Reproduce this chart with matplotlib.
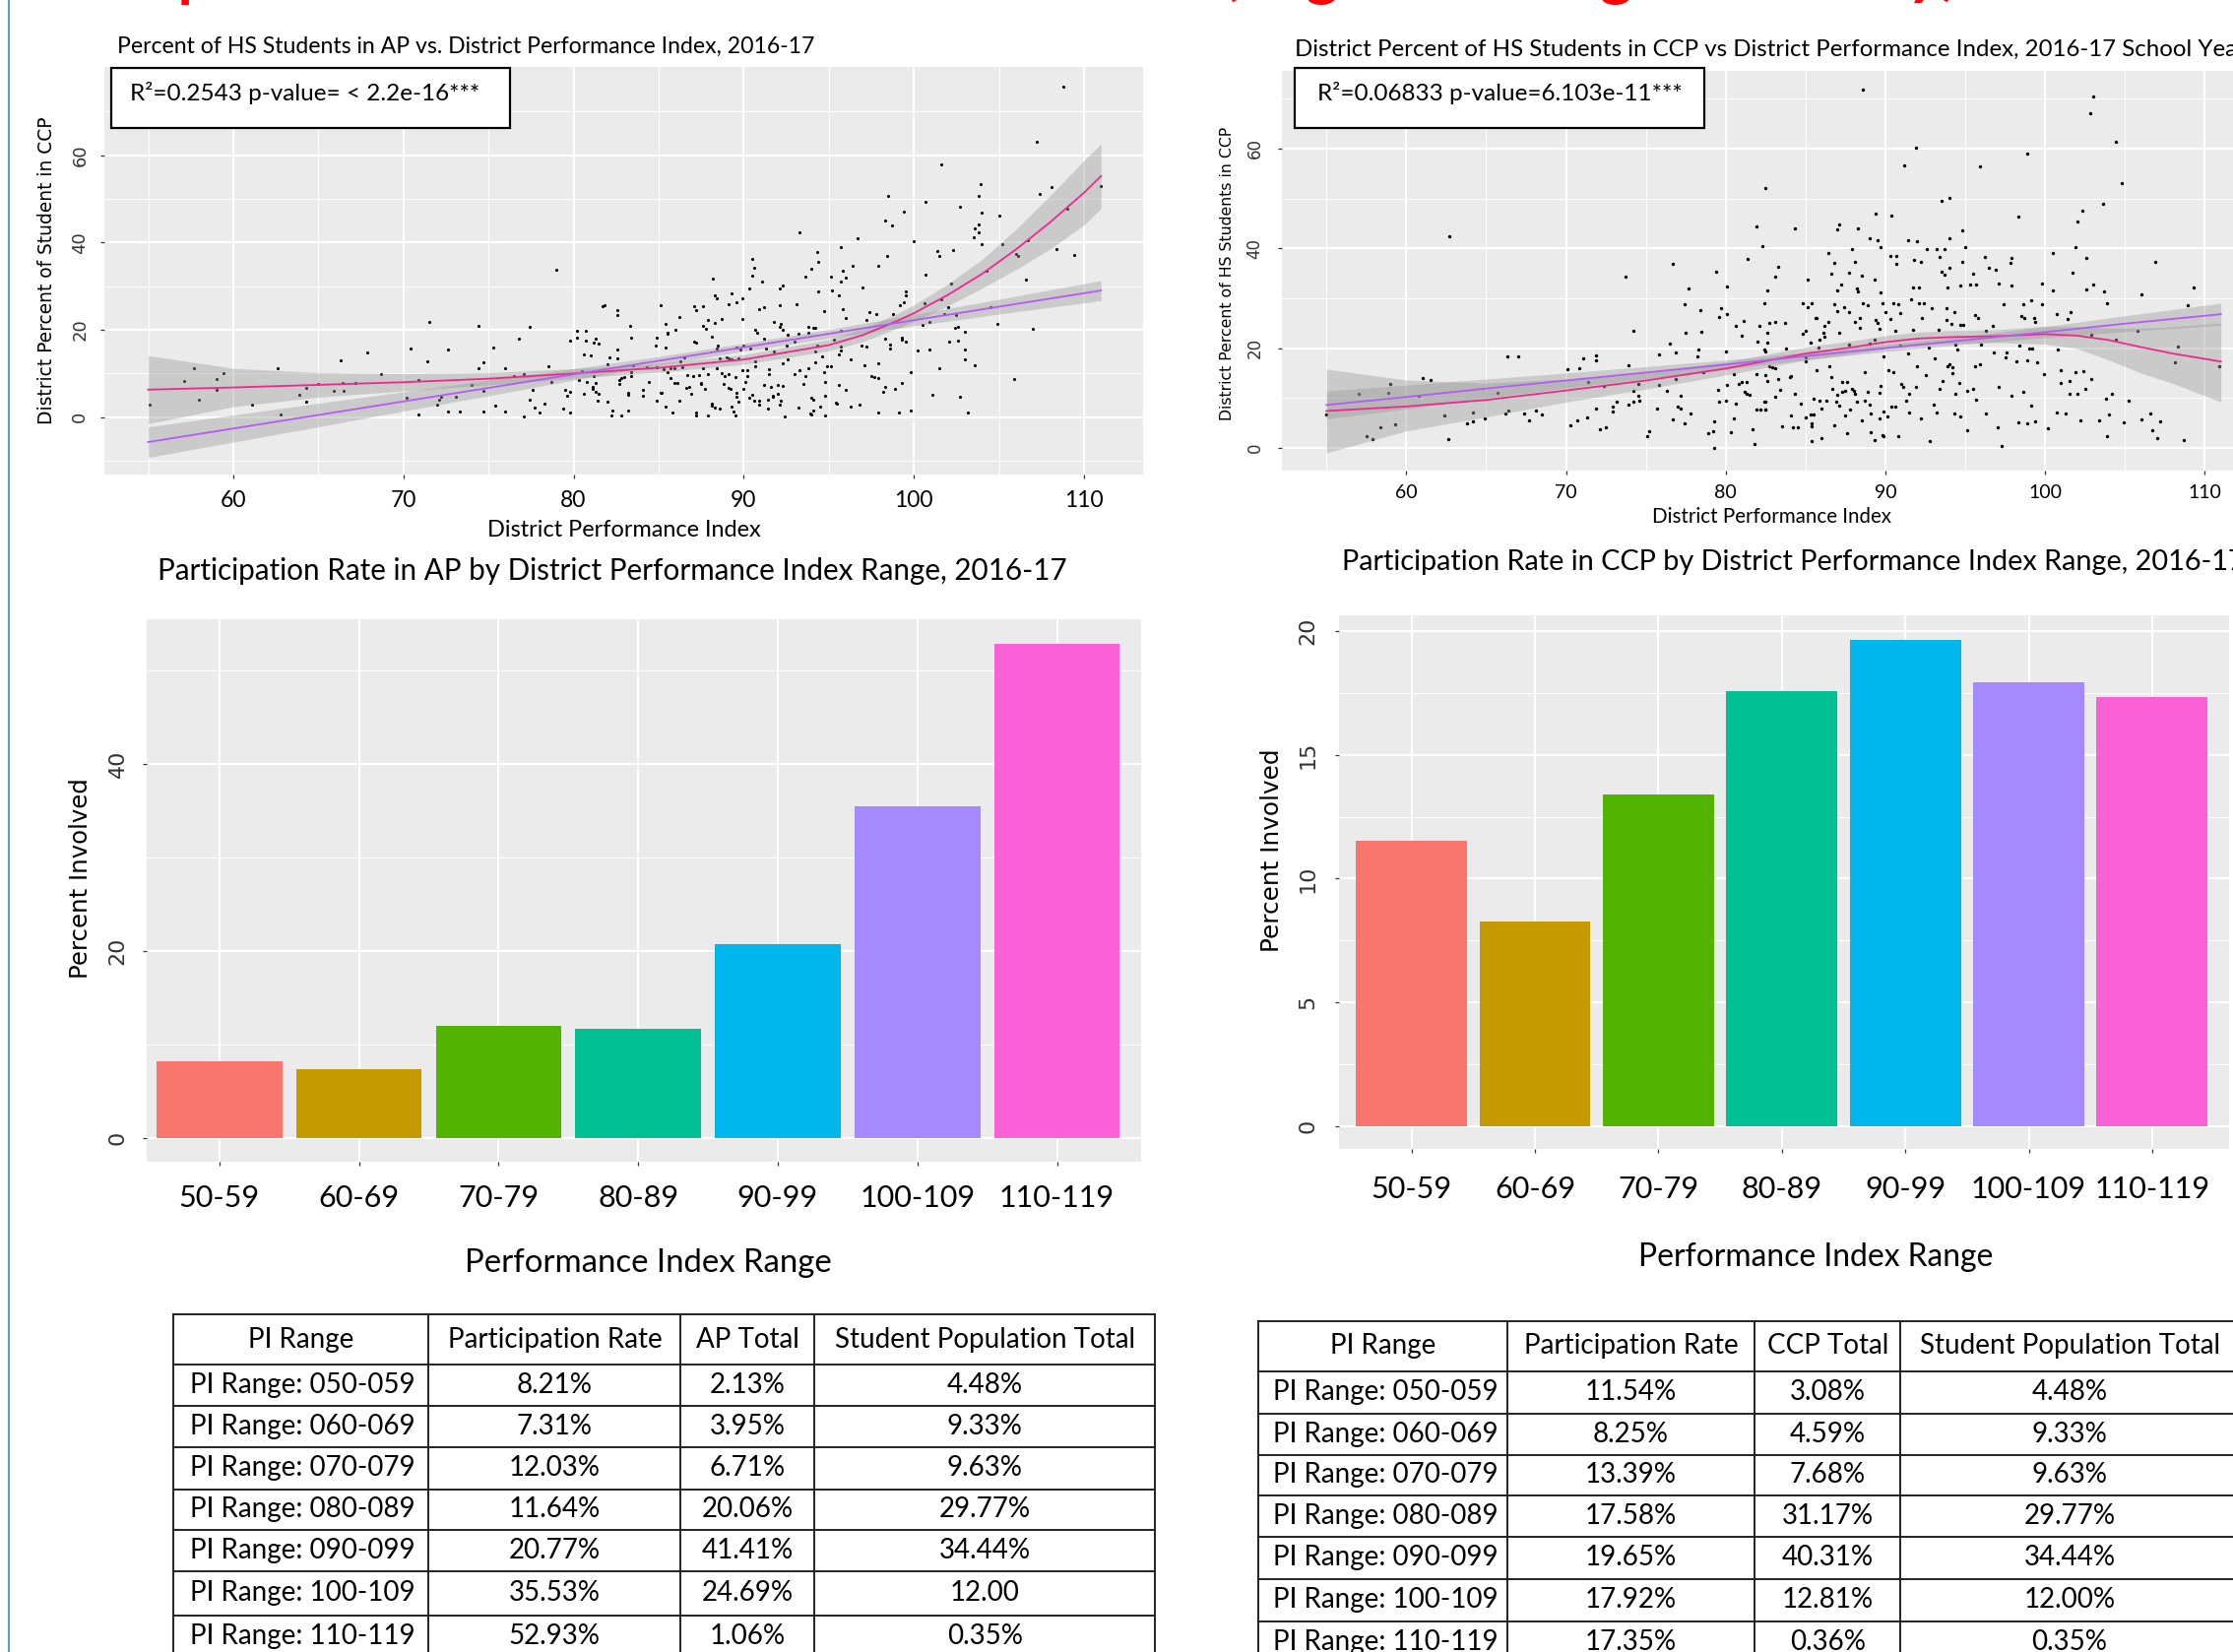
import numpy as np
from matplotlib import pyplot as plt
from matplotlib.patches import Rectangle

plt.rcParams['font.family'] = ['Lato', 'DejaVu Sans']

# layout is measured on the 1568x1160 view of the slide
W, H = 1568.0, 1160.0

pi_labels = ['50-59', '60-69', '70-79', '80-89', '90-99', '100-109', '110-119']
pi_rows = ['PI Range: 050-059', 'PI Range: 060-069', 'PI Range: 070-079', 'PI Range: 080-089',
           'PI Range: 090-099', 'PI Range: 100-109', 'PI Range: 110-119']
ap_rate = [8.21, 7.31, 12.03, 11.64, 20.77, 35.53, 52.93]
ap_total = [2.13, 3.95, 6.71, 20.06, 41.41, 24.69, 1.06]
ccp_rate = [11.54, 8.25, 13.39, 17.58, 19.65, 17.92, 17.35]
ccp_total = [3.08, 4.59, 7.68, 31.17, 40.31, 12.81, 0.36]
ap_pop_text = ['4.48%', '9.33%', '9.63%', '29.77%', '34.44%', '12.00', '0.35%']
ccp_pop_text = ['4.48%', '9.33%', '9.63%', '29.77%', '34.44%', '12.00%', '0.35%']
bar_colors = ['#F8766D', '#C49A00', '#53B400', '#00C094', '#00B6EB', '#A58AFF', '#FB61D7']

# district points, AP panel
ap_x = [55.1, 57.1, 57.7, 58.0, 59.0, 59.0, 59.4, 61.1, 62.6, 62.8,
        63.9, 64.3, 64.3, 65.0, 65.9, 66.3, 66.4, 66.5, 67.2, 67.9,
        68.7, 70.2, 70.4, 70.9, 70.9, 71.4, 71.5, 72.0, 72.1, 72.2,
        72.6, 72.6, 73.1, 73.3, 74.0, 74.4, 74.4, 74.7, 74.7, 74.7,
        75.3, 75.4, 76.0, 76.0, 76.5, 76.8, 77.1, 77.1, 77.4, 77.4,
        77.6, 77.7, 78.0, 78.3, 78.5, 78.7, 79.0, 79.4, 79.5, 79.6,
        79.8, 79.8, 79.8, 80.2, 80.2, 80.3, 80.5, 80.6, 80.7, 80.6,
        80.7, 80.8, 81.0, 81.1, 81.1, 81.2, 81.2, 81.3, 81.3, 81.4,
        81.3, 81.5, 81.5, 81.7, 81.8, 82.0, 82.0, 82.1, 82.2, 82.3,
        82.6, 82.6, 82.6, 82.6, 82.7, 82.7, 82.8, 82.8, 83.0, 83.2,
        83.2, 83.2, 83.3, 83.4, 83.4, 83.4, 83.5, 84.1, 84.1, 84.3,
        84.4,
        84.9, 84.8, 84.9, 84.9, 85.1, 85.1, 85.2, 85.3, 85.4, 85.4,
        85.4, 85.5, 85.5, 85.5, 85.7, 85.7, 85.8, 85.9, 85.9, 86.0,
        86.1, 86.2, 86.2, 86.3, 86.4, 86.5, 86.6, 86.7, 86.8, 86.9,
        87.0, 87.1, 87.2, 87.1, 87.2, 87.2, 87.2, 87.4, 87.5, 87.5,
        87.6, 87.6, 87.6, 87.7, 87.8, 87.9, 87.9, 87.9, 88.1, 88.1,
        88.1, 88.2, 88.3, 88.3, 88.4, 88.3, 88.4, 88.4, 88.5, 88.6,
        88.6, 88.7, 88.7, 88.8, 88.9, 89.0, 89.1, 89.1, 89.1, 89.1,
        89.2, 89.3, 89.3, 89.3, 89.4, 89.5, 89.5, 89.6, 89.6, 89.6,
        89.6, 89.7, 89.7, 89.8, 89.9, 89.9, 89.9, 90.0, 90.0, 90.1,
        90.2, 90.2, 90.3, 90.3, 90.4, 90.5, 90.5, 90.6, 90.5, 90.6,
        90.7, 90.7, 90.7, 90.8, 90.9, 90.9, 90.9, 91.1, 91.2, 91.2,
        91.2, 91.3, 91.4, 91.4, 91.5, 91.5, 91.6, 91.7, 91.7, 91.8,
        91.8, 92.0, 92.0, 92.1, 92.1, 92.1, 92.1, 92.2, 92.2, 92.3,
        92.3, 92.3, 92.3, 92.4, 92.5, 92.6, 92.6, 93.0, 93.0, 93.1,
        93.2, 93.2, 93.3, 93.3, 93.5, 93.6, 93.6, 93.8, 93.8, 93.8,
        93.9, 94.0, 94.0, 94.0, 94.1, 94.1, 94.1, 94.2, 94.2, 94.2,
        94.3, 94.3, 94.4, 94.4, 94.5, 94.6, 94.7, 94.7, 94.8, 94.8,
        94.8, 94.9, 95.1, 95.1, 95.2, 95.3, 95.4, 95.5, 95.6, 95.6,
        95.6, 95.7, 95.7, 95.7, 95.7, 95.7, 95.8, 95.8, 96.0, 96.0,
        96.0, 96.3, 96.3, 96.4, 96.7, 96.8, 96.9, 97.0, 97.1, 97.2,
        97.2, 97.4, 97.5, 97.7, 97.8, 97.9, 97.9, 97.9, 97.9, 98.2,
        98.3, 98.3, 98.3, 98.4, 98.5, 98.6, 98.7, 98.6, 98.8, 98.9,
        99.1, 99.2, 99.3, 99.3, 99.3, 99.4, 99.4, 99.5, 99.5, 99.5,
        99.8, 99.8, 100.0, 100.2, 100.5, 100.6, 100.7, 100.7, 100.9, 100.9,
        101.1, 101.4, 101.5, 101.5, 101.6, 101.6, 101.8, 102.0, 102.1, 102.2,
        102.3, 102.4, 102.5, 102.6, 102.6, 102.7, 102.7, 103.0, 103.0, 103.0,
        103.2, 103.5, 103.6, 103.6, 103.8, 103.8, 103.8, 103.9, 104.0, 104.0,
        104.3, 104.5, 104.9, 105.0, 105.2, 105.9, 106.0, 106.1, 106.6, 106.7,
        107.0, 107.2, 107.4, 108.1, 108.4, 108.8, 109.0, 109.4, 111.0]
ap_y = [2.8, 8.2, 11.1, 4.0, 8.7, 6.2, 10.1, 2.8, 11.3, 0.7,
        5.1, 6.7, 3.6, 7.7, 6.1, 13.1, 7.9, 6.0, 7.9, 14.8,
        9.9, 4.5, 15.7, 0.7, 8.6, 12.7, 21.9, 2.8, 4.0, 4.7,
        15.4, 1.4, 4.6, 1.3, 7.3, 11.2, 21.0, 1.4, 12.5, 6.1,
        16.0, 2.6, 1.3, 11.2, 9.3, 17.9, 9.9, 0.1, 20.7, 4.0,
        6.3, 2.1, 1.1, 3.1, 11.6, 8.1, 33.7, 1.9, 6.2, 5.0,
        5.8, 1.1, 17.5, 19.7, 18.1, 8.4, 10.6, 14.4, 19.8, 5.4,
        17.5, 8.1, 14.1, 7.0, 6.5, 17.0, 9.3, 17.9, 7.8, 3.8,
        5.7, 5.4, 16.9, 25.4, 25.7, 12.1, 3.5, 13.7, 0.3, 1.6,
        24.4, 23.3, 15.4, 13.4, 8.5, 7.5, 0.3, 9.0, 9.2, 5.2,
        5.6, 1.6, 20.9, 18.1, 10.4, 9.3, 11.9, 6.3, 4.9, 11.5,
        8.1,
        18.2, 16.4, 11.4, 3.8, 25.7, 5.6, 5.5, 10.9, 21.4, 15.9,
        2.5, 19.4, 19.2, 10.3, 11.1, 8.9, 1.1, 11.1, 7.9, 19.9,
        7.9, 22.9, 3.8, 12.8, 11.5, 13.7, 6.7, 9.6, 6.9, 5.3,
        9.4, 25.4, 24.4, 17.4, 17.1, 1.1, 0.4, 9.6, 7.7, 7.9,
        25.4, 20.8, 11.3, 6.5, 20.2, 22.3, 0.3, 9.9, 18.5, 3.2,
        2.6, 31.7, 2.1, 27.8, 27.3, 21.6, 11.1, 15.7, 16.4, 1.9,
        13.4, 10.0, 22.4, 7.5, 9.4, 13.8, 13.4, 6.8, 25.9, 9.8,
        6.4, 2.5, 13.2, 28.4, 1.3, 0.5, 9.2, 5.6, 26.3, 15.9,
        4.7, 3.5, 13.4, 15.5, 22.5, 27.2, 10.7, 6.5, 16.5, 8.1,
        10.7, 9.4, 29.5, 4.5, 15.8, 32.5, 5.1, 34.2, 36.3, 3.8,
        12.9, 19.9, 11.7, 19.3, 24.7, 2.9, 3.8, 31.0, 17.9, 25.2,
        7.3, 15.8, 4.1, 2.0, 10.9, 9.8, 7.0, 4.9, 4.7, 21.7,
        15.0, 7.3, 5.4, 2.9, 29.5, 25.6, 20.7, 21.4, 3.8, 30.1,
        7.1, 12.3, 19.9, 0.2, 16.4, 13.2, 18.9, 9.9, 17.3, 25.8,
        19.2, 2.3, 42.3, 10.7, 7.5, 32.2, 9.3, 20.7, 11.1, 19.4,
        0.8, 34.0, 4.5, 0.6, 4.1, 1.5, 20.5, 15.0, 20.5, 12.6,
        16.4, 37.9, 35.6, 28.7, 2.4, 13.9, 10.3, 24.3, 4.9, 8.0,
        0.4, 11.7, 11.7, 32.1, 29.1, 17.7, 3.4, 3.0, 7.3, 14.4,
        28.0, 38.9, 31.1, 19.7, 16.2, 15.3, 33.6, 24.8, 6.2, 32.0,
        22.8, 2.4, 13.3, 34.7, 40.9, 2.9, 16.3, 29.8, 11.9, 22.2,
        16.2, 24.1, 9.4, 9.2, 23.5, 8.9, 34.7, 12.4, 1.0, 5.8,
        45.1, 7.0, 18.0, 37.0, 50.6, 15.8, 43.8, 16.7, 23.7, 6.5,
        1.0, 25.6, 18.2, 7.9, 17.7, 47.1, 26.3, 28.9, 27.8, 17.3,
        1.5, 10.2, 40.2, 15.2, 21.1, 26.1, 49.4, 32.7, 15.6, 21.7,
        5.2, 38.0, 37.0, 11.1, 57.9, 26.9, 23.7, 25.3, 17.3, 30.5,
        38.2, 20.5, 23.3, 17.5, 20.7, 48.2, 4.7, 15.5, 19.6, 13.2,
        1.1, 41.1, 12.0, 43.2, 50.7, 42.3, 44.2, 53.4, 46.9, 39.6,
        33.5, 25.3, 21.4, 46.1, 39.6, 8.8, 37.4, 36.8, 31.4, 40.6,
        20.3, 63.0, 51.1, 52.6, 38.6, 75.7, 47.7, 37.1, 53.0]

# district points, CCP panel
ccp_x = [55.0, 57.0, 57.5, 57.9, 58.4, 58.9, 59.0, 59.3, 60.8, 61.0,
         61.5, 62.4, 62.6, 62.7, 63.8, 64.2, 64.2, 64.9, 65.7, 66.2,
         66.4, 66.3, 67.0, 67.4, 67.7, 68.1, 68.5, 70.1, 70.3, 70.7,
         70.8, 71.1, 71.3, 71.4, 71.9, 71.9, 71.9, 72.1, 72.4, 72.5,
         72.9, 72.9, 73.2, 73.7, 73.9, 73.9, 74.2, 74.2, 74.2, 74.5,
         74.5, 74.6, 75.1, 75.2, 75.7, 75.8, 75.8, 76.3, 76.5, 76.7,
         76.7, 76.9, 76.9, 77.0, 77.2, 77.2, 77.4, 77.4, 77.5, 77.7,
         77.8, 78.2, 78.3, 78.4, 78.5, 78.6, 78.9, 79.2, 79.3, 79.4,
         79.3, 79.5, 79.6, 79.6, 79.7, 80.0, 80.0, 80.1, 80.1, 80.1,
         80.3, 80.5, 80.5, 80.6, 80.6, 80.8, 81.0, 81.0, 81.1, 81.2,
         81.3, 81.3, 81.4, 81.5, 81.7, 81.8, 81.9, 81.9, 81.9, 82.0,
         82.1, 82.2, 82.3, 82.4, 82.4, 82.4, 82.5, 82.5, 82.6, 82.6,
         82.6,
         82.7, 83.1, 82.6, 82.5, 82.7, 82.5, 82.9, 83.1, 83.3, 83.7,
         83.8, 84.0, 84.1, 83.1, 83.3, 83.4, 83.1, 82.5, 82.5, 83.5,
         84.1, 84.2, 84.5, 84.3, 84.3, 84.7, 84.8, 84.8, 85.0, 85.0,
         85.0, 85.0, 85.1, 85.1, 85.3, 85.3, 85.4, 85.4, 85.4, 85.4,
         85.5, 85.5, 85.6, 85.7, 85.7, 85.8, 85.9, 85.9, 86.0, 86.0,
         86.1, 86.2, 86.2, 86.3, 86.4, 86.4, 86.5, 86.6, 86.6, 86.7,
         86.8, 86.8, 86.8, 86.9, 87.0, 87.0, 87.0, 87.0, 87.1, 87.1,
         87.1, 87.2, 87.3, 87.3, 87.4, 87.5, 87.5, 87.6, 87.6, 87.7,
         87.7, 87.7, 87.8, 87.9, 87.9, 88.0, 88.1, 88.1, 88.1, 88.2,
         88.2, 88.3, 88.3, 88.4, 88.4, 88.5, 88.5, 88.6, 88.6, 88.7,
         88.7, 88.9, 88.9, 89.0, 89.0, 89.0, 89.1, 89.1, 89.3, 89.3,
         89.3, 89.4, 89.4, 89.5, 89.5, 89.6, 89.6, 89.6, 89.7, 89.7,
         89.7, 89.8, 89.8, 89.9, 89.9, 89.9, 90.0, 90.1, 90.2, 90.3,
         90.3, 90.4, 90.4, 90.5, 90.5, 90.6, 90.6, 90.7, 90.7, 90.8,
         90.8, 90.9, 90.9, 91.0, 91.1, 91.2, 91.3, 91.4, 91.4, 91.5,
         91.5, 91.6, 91.7, 91.7, 91.8, 91.9, 91.9, 92.0, 92.0, 92.1,
         92.1, 92.2, 92.2, 92.3, 92.4, 92.5, 92.6, 92.7, 92.8, 92.9,
         93.0, 93.1, 93.2, 93.2, 93.3, 93.4, 93.4, 93.5, 93.5, 93.6,
         93.7, 93.7, 93.8, 93.8, 93.9, 93.9, 94.0, 94.0, 94.0, 94.0,
         94.1, 94.2, 94.2, 94.3, 94.3, 94.4, 94.4, 94.5, 94.6, 94.7,
         94.7, 94.7, 94.8, 94.8, 94.9, 95.0, 95.1, 95.1, 95.3, 95.5,
         95.5, 95.6, 95.6, 95.7, 95.7, 95.8, 95.9, 95.9, 96.0, 96.2,
         96.3, 96.3, 96.5, 96.7, 96.8, 96.9, 97.0, 97.1, 97.1, 97.3,
         97.4, 97.5, 97.6, 97.8, 97.9, 97.9, 97.9, 98.2, 98.3, 98.3,
         98.4, 98.5, 98.6, 98.6, 98.7, 98.9, 98.9, 98.9, 99.0, 99.1,
         99.1, 99.2, 99.3, 99.4, 99.4, 99.5, 99.8, 99.8, 99.9, 100.2,
         100.5, 100.5, 100.7, 100.7, 100.8, 101.0, 101.0, 101.3, 101.4, 101.5,
         101.5, 101.6, 101.7, 101.9, 101.9, 102.0, 102.0, 102.2, 102.3, 102.4,
         102.5, 102.6, 102.6, 102.8, 102.9, 102.9, 103.0, 103.0, 103.4, 103.6,
         103.7, 103.8, 103.9, 103.9, 104.0, 104.2, 104.4, 104.4, 104.8, 104.9,
         105.2, 105.8, 106.0, 106.0, 106.6, 106.7, 106.9, 107.0, 107.2, 108.1,
         108.3, 108.7, 108.9, 109.3, 110.9]
ccp_y = [6.6, 10.9, 2.3, 1.8, 4.1, 11.1, 12.8, 4.8, 10.5, 14.0,
         13.6, 6.4, 1.8, 42.5, 4.9, 5.3, 7.0, 5.9, 11.0, 6.8,
         7.4, 18.4, 18.3, 6.8, 5.6, 7.4, 6.6, 15.8, 4.5, 5.5,
         15.9, 18.0, 6.1, 13.3, 18.5, 17.5, 7.8, 3.8, 12.4, 4.1,
         7.2, 8.2, 9.2, 34.3, 16.5, 8.6, 23.4, 9.3, 11.4, 10.5,
         12.8, 9.4, 2.3, 3.3, 7.9, 12.6, 18.8, 11.4, 20.9, 36.8,
         5.8, 19.2, 13.8, 8.2, 7.9, 10.5, 4.9, 28.8, 23.0, 31.9,
         6.8, 18.4, 19.7, 27.6, 23.2, 15.1, 3.0, 3.4, 0.0, 35.4,
         5.3, 11.6, 9.2, 26.3, 28.1, 9.5, 19.3, 32.4, 26.8, 12.6,
         3.2, 14.8, 5.9, 24.5, 8.9, 12.8, 13.2, 22.4, 25.5, 11.3,
         10.9, 13.2, 37.8, 10.7, 3.8, 0.7, 44.4, 14.8, 7.7, 21.3,
         24.5, 7.7, 40.5, 28.9, 9.2, 19.7, 7.7, 52.0, 31.5, 23.0,
         13.5,
         25.1, 25.3, 21.1, 19.4, 16.3, 14.5, 16.1, 34.3, 36.2, 25.1,
         19.9, 14.1, 14.3, 15.9, 13.8, 11.6, 10.3, 9.2, 7.6, 4.3,
         6.4, 4.1, 4.1, 43.9, 10.9, 8.9, 28.9, 22.9, 23.4, 18.1,
         17.3, 6.1, 33.8, 28.2, 21.1, 6.6, 4.9, 4.4, 1.3, 28.9,
         9.9, 6.6, 26.0, 26.0, 15.5, 20.1, 21.7, 9.5, 7.8, 2.0,
         23.0, 24.5, 22.2, 9.5, 25.3, 39.0, 16.3, 34.9, 14.1, 11.8,
         28.8, 37.0, 4.6, 9.3, 27.4, 43.8, 31.6, 10.7, 23.0, 8.4,
         44.7, 32.7, 13.2, 11.2, 28.2, 6.4, 11.5, 13.2, 3.0, 35.2,
         27.3, 20.7, 7.6, 39.8, 11.8, 11.5, 37.2, 10.9, 25.3, 31.9,
         9.2, 43.9, 31.3, 24.0, 26.0, 34.5, 5.6, 71.9, 28.9, 15.1,
         9.5, 28.5, 11.2, 8.6, 20.9, 42.1, 6.8, 3.1, 33.8, 21.7,
         1.6, 46.9, 25.7, 41.6, 25.0, 23.9, 11.1, 5.9, 31.1, 40.3,
         12.5, 2.6, 28.9, 2.3, 18.4, 7.2, 27.3, 6.3, 15.6, 38.5,
         25.8, 46.5, 8.2, 15.1, 28.9, 23.5, 8.2, 38.5, 36.8, 2.4,
         28.8, 27.0, 20.6, 12.8, 12.2, 56.6, 9.5, 41.6, 18.9, 7.0,
         10.9, 29.8, 23.7, 32.2, 37.6, 60.2, 12.2, 41.4, 16.4, 28.9,
         32.1, 37.3, 5.9, 26.0, 28.9, 14.5, 39.9, 20.2, 1.4, 28.1,
         8.6, 17.9, 7.0, 39.9, 23.7, 11.8, 38.2, 35.3, 49.5, 13.5,
         39.9, 34.7, 28.0, 25.7, 32.1, 16.4, 36.0, 50.1, 42.1, 16.8,
         24.8, 14.9, 16.1, 27.3, 6.9, 10.9, 20.7, 19.7, 13.0, 24.7,
         6.3, 32.6, 43.6, 37.2, 24.7, 40.3, 3.5, 11.4, 32.7, 34.9,
         11.8, 26.6, 16.3, 32.7, 9.7, 26.0, 56.4, 16.8, 20.7, 38.3,
         6.9, 23.4, 36.0, 24.5, 19.1, 35.7, 4.1, 33.0, 12.2, 0.3,
         28.8, 18.2, 19.1, 37.0, 38.0, 32.6, 10.5, 17.3, 5.1, 46.4,
         20.5, 26.4, 28.8, 11.3, 26.0, 59.0, 17.6, 4.9, 19.9, 8.4,
         29.6, 19.9, 26.0, 5.3, 25.3, 17.2, 33.0, 28.8, 14.8, 3.9,
         39.0, 31.6, 26.8, 7.1, 19.7, 15.6, 13.0, 6.8, 25.8, 13.4,
         10.9, 27.3, 35.1, 40.3, 15.1, 45.3, 10.9, 5.6, 47.6, 15.3,
         11.8, 38.0, 31.7, 67.1, 22.7, 13.8, 70.4, 32.8, 5.6, 48.9,
         31.4, 9.9, 2.4, 28.9, 6.6, 10.9, 61.4, 21.7, 53.1, 5.1,
         9.4, 23.5, 30.8, 5.7, 6.9, 3.6, 37.3, 2.0, 5.3, 17.2,
         20.4, 1.6, 28.5, 32.2, 16.3]

# fitted curves and their bands
ap_lm_x = [55, 60, 65, 70, 75, 80, 85, 90, 95, 100, 105, 111]
ap_lm_y = [-5.7, -2.6, 0.5, 3.6, 6.7, 9.8, 12.9, 16.0, 19.1, 22.2, 25.3, 29.0]
ap_lm_lo = [-9.2, -5.7, -2.2, 1.4, 4.9, 8.5, 11.9, 15.1, 18.1, 20.9, 23.6, 26.7]
ap_lm_hi = [-2.2, 0.5, 3.2, 5.8, 8.5, 11.1, 13.9, 16.9, 20.1, 23.5, 27.0, 31.3]
ap_lo_x = [55, 60, 65, 70, 75, 80, 85, 90, 95, 97, 99, 100, 102, 104, 106, 108, 110, 111]
ap_lo_y = [6.3, 6.8, 7.4, 8.0, 8.8, 10.0, 11.3, 13.2, 16.5, 18.8, 22.0, 23.8, 28.0, 32.8, 38.4, 44.6, 51.4, 55.2]
ap_lo_lo = [-1.5, 2.4, 4.6, 6.0, 7.4, 8.9, 10.3, 12.1, 15.2, 17.3, 20.3, 21.9, 25.5, 29.5, 33.8, 38.5, 44.0, 47.8]
ap_lo_hi = [14.1, 11.2, 10.2, 10.0, 10.2, 11.1, 12.3, 14.3, 17.8, 20.3, 23.7, 25.7, 30.5, 36.1, 43.0, 50.7, 58.8, 62.6]

ccp_lm_x = [55, 60, 65, 70, 75, 80, 85, 90, 95, 100, 105, 111]
ccp_lm_y = [8.6, 10.2, 11.9, 13.5, 15.1, 16.7, 18.4, 20.0, 21.6, 23.2, 24.9, 26.8]
ccp_lm_lo = [5.8, 7.8, 10.0, 12.0, 13.9, 15.8, 17.65, 19.3, 20.8, 22.1, 23.3, 24.6]
ccp_lm_hi = [11.4, 12.6, 13.8, 15.0, 16.3, 17.6, 19.15, 20.7, 22.4, 24.3, 26.5, 29.0]
ccp_lo_x = [55, 60, 65, 70, 75, 80, 85, 88, 90, 92, 94, 97, 100, 102, 104, 106, 108, 111]
ccp_lo_y = [7.4, 8.3, 9.6, 11.5, 13.5, 15.9, 18.9, 20.2, 21.2, 21.9, 22.2, 22.4, 22.8, 22.5, 21.6, 20.2, 18.9, 17.3]
ccp_lo_lo = [-1.0, 3.4, 6.2, 9.2, 11.8, 14.6, 17.6, 18.9, 19.9, 20.6, 20.9, 21.1, 20.8, 19.9, 17.6, 15.0, 12.9, 9.2]
ccp_lo_hi = [15.8, 13.6, 13.0, 13.8, 15.2, 17.2, 20.2, 21.5, 22.5, 23.2, 23.5, 23.7, 24.4, 24.3, 24.0, 24.0, 24.3, 25.0]


def rect(x0, y0, x1, y1):
    return [x0 / W, 1 - y1 / H, (x1 - x0) / W, (y1 - y0) / H]


def gg_panel(ax, xlim, ylim, xminor, yminor):
    ax.set_facecolor('#EBEBEB')
    ax.set_xlim(xlim)
    ax.set_ylim(ylim)
    ax.set_xticks(xminor, minor=True)
    ax.set_yticks(yminor, minor=True)
    ax.grid(which='major', color='white', linewidth=1.5)
    ax.grid(which='minor', color='white', linewidth=0.7)
    ax.set_axisbelow(True)
    for sp in ax.spines.values():
        sp.set_visible(False)
    ax.tick_params(which='minor', length=0)
    ax.tick_params(which='major', length=3, width=0.9, color='#333333')


fig = plt.figure(figsize=(22.68, 16.78), dpi=100)

# ---- AP scatter
s1 = fig.add_axes(rect(73, 47, 803, 333.4))
gg_panel(s1, (52.4, 113.5), (-13.2, 80.2), [55, 65, 75, 85, 95, 105], [-10, 10, 30, 50, 70])
s1.set_xticks([60, 70, 80, 90, 100, 110], ['60', '70', '80', '90', '100', '110'], fontsize=16.5)
s1.set_yticks([0, 20, 40, 60], ['0', '20', '40', '60'], rotation=90, va='center',
              family='DejaVu Sans', fontsize=13, color='#333333')
s1.tick_params(axis='x', pad=8)
s1.tick_params(axis='y', pad=8)
s1.scatter(ap_x, ap_y, s=5, color='black', linewidths=0, zorder=2)
s1.fill_between(ap_lo_x, ap_lo_lo, ap_lo_hi, color='#999999', alpha=0.4, linewidth=0, zorder=3)
s1.fill_between(ap_lm_x, ap_lm_lo, ap_lm_hi, color='#999999', alpha=0.4, linewidth=0, zorder=3)
s1.plot(ap_lo_x, ap_lo_y, color='#F0288C', lw=1.3, zorder=4)
s1.plot(ap_lm_x, ap_lm_y, color='#B35CF5', lw=1.3, zorder=4)

# ---- CCP scatter
s2 = fig.add_axes(rect(900, 50, 1568, 330.6))
gg_panel(s2, (52.2, 111.76), (-4.6, 75.5), [55, 65, 75, 85, 95, 105], [10, 30, 50, 70])
s2.set_xticks([60, 70, 80, 90, 100, 110], ['60', '70', '80', '90', '100', '110'], fontsize=14)
s2.set_yticks([0, 20, 40, 60], ['0', '20', '40', '60'], rotation=90, va='center',
              family='DejaVu Sans', fontsize=12, color='#333333')
s2.tick_params(axis='x', pad=7)
s2.tick_params(axis='y', pad=10)
s2.scatter(ccp_x, ccp_y, s=6, color='black', linewidths=0, zorder=2)
s2.fill_between(ccp_lo_x, ccp_lo_lo, ccp_lo_hi, color='#999999', alpha=0.4, linewidth=0, zorder=3)
s2.fill_between(ccp_lm_x, ccp_lm_lo, ccp_lm_hi, color='#999999', alpha=0.4, linewidth=0, zorder=3)
s2.plot(ccp_lo_x, ccp_lo_y, color='#F0288C', lw=1.3, zorder=4)
s2.plot(ccp_lm_x, ccp_lm_y, color='#B35CF5', lw=1.3, zorder=4)

# ---- AP bars
b1 = fig.add_axes(rect(103, 435, 801, 816))
gg_panel(b1, (0.48, 7.6), (-2.6, 55.5), [], [10, 30, 50])
b1.bar(range(1, 8), ap_rate, width=0.9, color=bar_colors, zorder=2)
b1.set_xticks(range(1, 8), pi_labels, fontsize=22)
b1.set_yticks([0, 20, 40], ['0', '20', '40'], rotation=90, va='center',
              family='DejaVu Sans', fontsize=16, color='#333333')
b1.tick_params(axis='x', pad=13)
b1.tick_params(axis='y', pad=11)

# ---- CCP bars
b2 = fig.add_axes(rect(940, 432, 1565, 807))
gg_panel(b2, (0.41, 7.62), (-0.95, 20.65), [], [2.5, 7.5, 12.5, 17.5])
b2.bar(range(1, 8), ccp_rate, width=0.9, color=bar_colors, zorder=2)
b2.set_xticks(range(1, 8), pi_labels, fontsize=22)
b2.set_yticks([0, 5, 10, 15, 20], ['0', '5', '10', '15', '20'], rotation=90, va='center',
              family='DejaVu Sans', fontsize=16, color='#333333')
b2.tick_params(axis='x', pad=16)
b2.tick_params(axis='y', pad=12)

# ---- overlay in screenshot pixels: texts, boxes, tables
ov = fig.add_axes([0, 0, 1, 1], zorder=5)
ov.set_xlim(0, W)
ov.set_ylim(H, 0)
ov.axis('off')
ov.patch.set_visible(False)

ov.plot([6, 6], [0, H], color='#5B9BD5', lw=1.5)
# slide heading: only the bottom of its descenders is inside the picture
ov.text(37, 3.5, 'Comparison of AP and CCP vs. District PI',
        color='#FF0000', fontsize=44, fontweight='bold', ha='left', va='bottom')
ov.text(858, 3.5, '(Higher Rating in Activity)',
        color='#FF0000', fontsize=47, fontweight='bold', ha='left', va='bottom')

ov.text(82, 33, 'Percent of HS Students in AP vs. District Performance Index, 2016-17',
        fontsize=16.6, ha='left', va='center')
ov.text(909, 35, 'District Percent of HS Students in CCP vs District Performance Index, 2016-17 School Year',
        fontsize=17.3, ha='left', va='center')
ov.text(438, 372, 'District Performance Index', fontsize=16.9, ha='center', va='center')
ov.text(1244, 363, 'District Performance Index', fontsize=14.8, ha='center', va='center')
ov.text(33, 190, 'District Percent of Student in CCP', family='DejaVu Sans', fontsize=13.4,
        rotation=90, ha='center', va='center')
ov.text(862, 192, 'District Percent of HS Students in CCP', family='DejaVu Sans', fontsize=11.3,
        rotation=90, ha='center', va='center')

ov.add_patch(Rectangle((78, 48), 280, 42, facecolor='white', edgecolor='black', lw=1.6))
ov.text(91, 65, 'R²=0.2543 p-value= < 2.2e-16***', fontsize=17.5, ha='left', va='center')
ov.add_patch(Rectangle((909, 48), 288, 42, facecolor='white', edgecolor='black', lw=1.6))
ov.text(925, 65, 'R²=0.06833 p-value=6.103e-11***', fontsize=17.5, ha='left', va='center')

ov.text(430, 401, 'Participation Rate in AP by District Performance Index Range, 2016-17',
        fontsize=21.3, ha='center', va='center')
ov.text(942, 395, 'Participation Rate in CCP by District Performance Index Range, 2016-17',
        fontsize=20.8, ha='left', va='center')
ov.text(57, 617, 'Percent Involved', family='DejaVu Sans', fontsize=17.6, rotation=90,
        ha='center', va='center')
ov.text(893, 597, 'Percent Involved', family='DejaVu Sans', fontsize=17.8, rotation=90,
        ha='center', va='center')
ov.text(455, 887, 'Performance Index Range', fontsize=23.7, ha='center', va='center')
ov.text(1275, 883, 'Performance Index Range', fontsize=22.9, ha='center', va='center')


def draw_table(xs, ys, header, cols, text_left):
    for y in ys:
        ov.plot([xs[0], xs[-1]], [y, y], color='#222222', lw=1.4)
    for x in xs:
        ov.plot([x, x], [ys[0], ys[-1]], color='#222222', lw=1.4)
    for j, h in enumerate(header):
        ov.text((xs[j] + xs[j + 1]) / 2, (ys[0] + ys[1]) / 2, h, fontsize=20,
                ha='center', va='center')
    for i in range(len(pi_rows)):
        yc = (ys[i + 1] + ys[i + 2]) / 2
        ov.text(text_left, yc, pi_rows[i], fontsize=20, ha='left', va='center')
        for j, col in enumerate(cols):
            ov.text((xs[j + 1] + xs[j + 2]) / 2, yc, col[i], fontsize=20,
                    ha='center', va='center')


draw_table([122, 301, 478, 572, 811],
           [923, 958.2, 987.5, 1016.3, 1045.6, 1074.6, 1103.4, 1134.3, 1164],
           ['PI Range', 'Participation Rate', 'AP Total', 'Student Population Total'],
           [[f'{v:.2f}%' for v in ap_rate], [f'{v:.2f}%' for v in ap_total], ap_pop_text],
           133.5)
draw_table([883.6, 1058.6, 1232, 1334.6, 1572],
           [927.6, 962.9, 992.6, 1021.4, 1050.4, 1079, 1108.5, 1138.5, 1168],
           ['PI Range', 'Participation Rate', 'CCP Total', 'Student Population Total'],
           [[f'{v:.2f}%' for v in ccp_rate], [f'{v:.2f}%' for v in ccp_total], ccp_pop_text],
           894)

fig.savefig('out.png', dpi=100)
